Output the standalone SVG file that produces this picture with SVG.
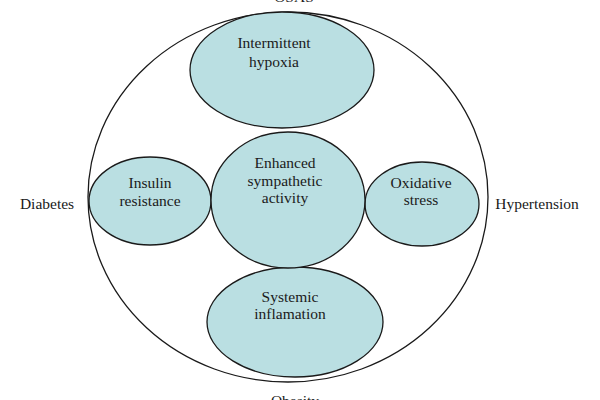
<svg xmlns="http://www.w3.org/2000/svg" width="600" height="400" viewBox="0 0 600 400">
<style>
.bub{fill:#badfe2;stroke:#1a1a1a;stroke-width:1.3}
.outer{fill:none;stroke:#1a1a1a;stroke-width:1.3}
text{font-family:"Liberation Serif","DejaVu Serif",serif;font-size:15.5px;fill:#1a1a1a;text-anchor:middle}
</style>
<rect width="600" height="400" fill="#ffffff"/>
<g id="outer">
<ellipse class="outer" cx="288" cy="197" rx="200" ry="185"/>
</g>
<g id="labels">
<text x="294" y="2">OSAS</text>
<text x="47" y="209">Diabetes</text>
<text x="537" y="209">Hypertension</text>
<text x="295" y="406">Obesity</text>
</g>
<g id="node-hypoxia">
<ellipse class="bub" cx="282" cy="70" rx="92" ry="58"/>
<text x="274" y="48">Intermittent</text>
<text x="274" y="67">hypoxia</text>
</g>
<g id="node-insulin">
<ellipse class="bub" cx="150" cy="201" rx="61" ry="44"/>
<text x="150" y="188">Insulin</text>
<text x="150" y="206">resistance</text>
</g>
<g id="node-oxidative">
<ellipse class="bub" cx="422" cy="204" rx="57" ry="42"/>
<text x="421" y="188">Oxidative</text>
<text x="421" y="205">stress</text>
</g>
<g id="node-inflamation">
<ellipse class="bub" cx="295" cy="322" rx="88" ry="55"/>
<text x="290" y="302">Systemic</text>
<text x="290" y="319">inflamation</text>
</g>
<g id="node-sympathetic">
<ellipse class="bub" cx="288" cy="200" rx="77" ry="68"/>
<text x="285" y="168">Enhanced</text>
<text x="285" y="185.5">sympathetic</text>
<text x="285" y="203">activity</text>
</g>
</svg>
